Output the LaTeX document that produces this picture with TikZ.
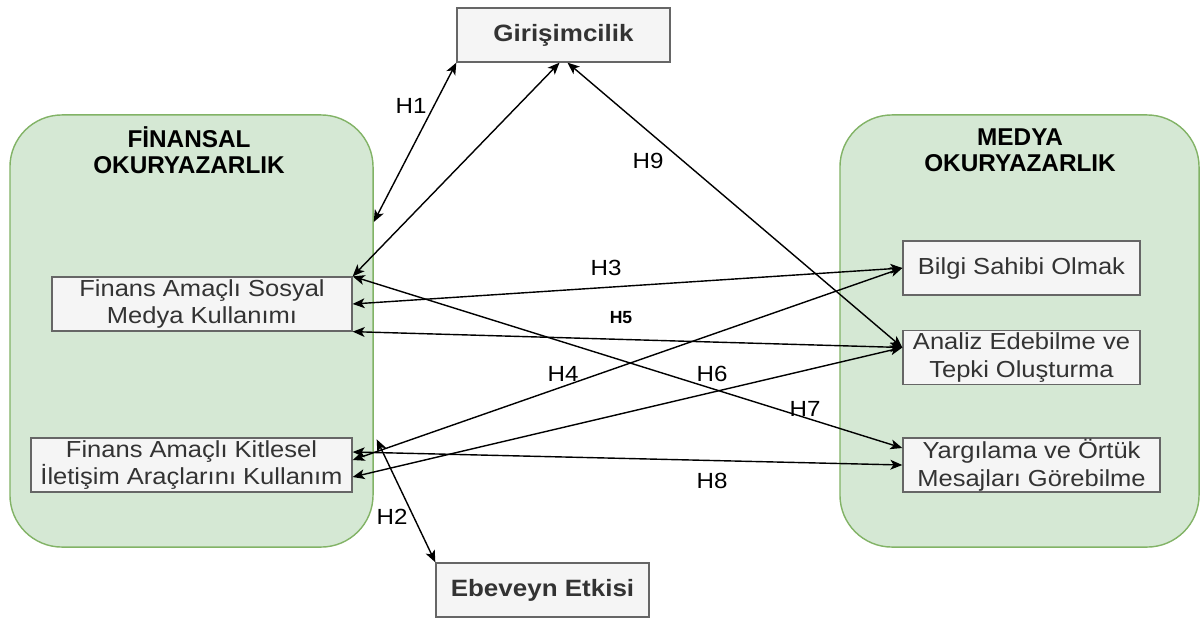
\documentclass[tikz,border=0pt]{standalone}
\usepackage{fontspec}
\setmainfont{Liberation Sans}
\newfontfamily\widefont{Liberation Sans}[FakeStretch=1.1]
\usepackage{tikz}
\usetikzlibrary{arrows.meta,calc}
\definecolor{alanfill}{HTML}{D5E8D4}
\definecolor{alandraw}{HTML}{82B366}
\definecolor{kutufill}{HTML}{F5F5F5}
\definecolor{kutudraw}{HTML}{666666}
\definecolor{kututext}{HTML}{333333}

\begin{document}
\begin{tikzpicture}[x=0.025cm, y=-0.025cm, >={Stealth[length=8.5pt,width=7pt,inset=2.2pt]},
  every node/.style={font=\fontsize{15.2}{19}\selectfont},
  alan/.style={draw=alandraw, fill=alanfill, line width=1pt, rounded corners=1.3cm,
    minimum width=#1, minimum height=10.8cm, inner sep=0pt},
  kutu/.style={draw=kutudraw, fill=kutufill, line width=0.9pt, text=kututext, align=center,
    minimum height=1.35cm, inner sep=0pt, font=\widefont\fontsize{16.5}{19.5}\selectfont},
  diskutu/.style={kutu, minimum width=5.325cm, font=\widefont\bfseries\fontsize{16.8}{19}\selectfont},
  baslik/.style={align=center, font=\bfseries\fontsize{17.3}{18.5}\selectfont},
  hlab/.style={font=\widefont\fontsize{15.6}{19}\selectfont},
  ok/.style={<->, line width=1pt}]
\useasboundingbox (0,0) rectangle (1201,619);

% ana alanlar
\node[alan=9.075cm] (fin) at (191.5,331) {};
\node[alan=8.975cm] (med) at (1019.5,331) {};
\node[baslik] (fintitle) at (189,150) {FİNANSAL\\OKURYAZARLIK};
\node[baslik] (medtitle) at (1020,150) {MEDYA\\OKURYAZARLIK};

% kutular
\node[diskutu] (gir) at (563.5,35) {Girişimcilik};
\node[diskutu] (ebe) at (542.5,590) {Ebeveyn Etkisi};
\node[kutu, minimum width=7.5cm] (sosyal) at (202,304) {Finans Amaçlı Sosyal\\Medya Kullanımı};
\node[kutu, minimum width=8.025cm] (kitle) at (191.5,465) {Finans Amaçlı Kitlesel\\İletişim Araçlarını Kullanım};
\node[kutu, minimum width=5.925cm] (bilgi) at (1021.5,268) {Bilgi Sahibi Olmak};
\node[kutu, minimum width=5.925cm] (analiz) at (1021.5,357.5) {Analiz Edebilme ve\\Tepki Oluşturma};
\node[kutu, minimum width=6.425cm] (yargi) at (1031.5,465) {Yargılama ve Örtük\\Mesajları Görebilme};

% iliskiler
\draw[ok] (gir.south west) -- ($(fin.east)+(0,-109)$);
\draw[ok] ($(gir.south)+(-4,0)$) -- (sosyal.north east);
\draw[ok] ($(gir.south)+(4,0)$) -- ($(analiz.west)+(0,-10)$);
\draw[ok] (sosyal.east) -- (bilgi.west);
\draw[ok] (sosyal.south east) -- ($(analiz.west)+(0,-10)$);
\draw[ok] ($(kitle.east)+(0,-5)$) -- (bilgi.west);
\draw[ok] ($(kitle.east)+(0,12)$) -- ($(analiz.west)+(0,-10)$);
\draw[ok] (sosyal.north east) -- ($(yargi.west)+(0,-17)$);
\draw[ok] ($(kitle.east)+(0,-13)$) -- (yargi.west);
\draw[ok] ($(kitle.north east)+(24,2)$) -- (ebe.north west);

% etiketler
\node[hlab] (h1) at (411,106) {H1};
\node[hlab] (h2) at (392,517) {H2};
\node[hlab] (h3) at (606,268) {H3};
\node[hlab] (h4) at (563,374) {H4};
\node[font=\bfseries\fontsize{12.5}{14}\selectfont] (h5) at (621,318) {H5};
\node[hlab] (h6) at (712,374) {H6};
\node[hlab] (h7) at (805,409) {H7};
\node[hlab] (h8) at (712,481) {H8};
\node[hlab] (h9) at (648,161) {H9};
\end{tikzpicture}
\end{document}
